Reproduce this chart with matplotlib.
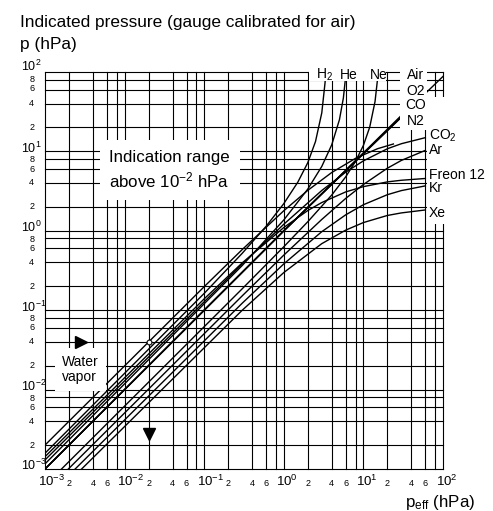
import matplotlib
matplotlib.use("Agg")
import matplotlib.pyplot as plt
import matplotlib.transforms as mtransforms
from matplotlib.patches import Rectangle

plt.rcParams['font.family'] = 'Liberation Sans'
plt.rcParams['mathtext.fontset'] = 'custom'
plt.rcParams['mathtext.rm'] = 'Liberation Sans'
plt.rcParams['mathtext.it'] = 'Liberation Sans:italic'
plt.rcParams['mathtext.bf'] = 'Liberation Sans:bold'

# grid / tick values
grid_mult = [1, 2, 4, 6, 8]
decades = [-3, -2, -1, 0, 1]
x_small_labels = [2, 4, 6]
y_small_labels = [2, 4, 6, 8]

# curves: p_eff (x) vs indicated p (y), hPa
water_x = [1e-3, 0.1, 0.3, 1, 2, 4, 8, 15, 23.8]
water_y = [2e-3, 0.198, 0.58, 1.79, 3.23, 5.42, 8.2, 10.8, 12.4]
h2_x = [1e-3, 0.1, 0.3, 0.6, 1, 1.5, 2, 2.5, 3, 3.3, 3.38]
h2_y = [1.58e-3, 0.163, 0.52, 1.14, 2.2, 4.1, 7.2, 13.3, 30.6, 74, 111]
he_x = [1e-3, 0.3, 1, 2, 3, 4, 5, 5.6, 6.0, 6.1]
he_y = [1.16e-3, 0.365, 1.37, 3.35, 6.47, 12.1, 25.1, 47, 90, 110]
ne_x = [1e-3, 0.3, 1, 2, 4, 6, 8, 10, 12, 14, 15, 15.4]
ne_y = [0.62e-3, 0.186, 0.63, 1.30, 2.82, 4.79, 7.56, 11.9, 20.2, 42.5, 79, 117]
air_x = [1e-3, 1, 10, 100]
air_y = [1e-3, 1, 9.5, 88]
o2_x = [1e-3, 1, 10, 29]
o2_y = [1e-3, 1, 9.3, 26.0]
co_x = [1e-3, 1, 10, 29]
co_y = [1e-3, 1, 9.6, 27.5]
n2_x = [1e-3, 1, 10, 28.8]
n2_y = [1e-3, 1, 9.4, 26.3]
co2_x = [1e-3, 0.3, 1, 3, 6, 10, 20, 30, 60]
co2_y = [1.30e-3, 0.382, 1.21, 3.22, 5.48, 7.6, 10.8, 12.5, 14.9]
freon_x = [1e-3, 0.1, 0.3, 1, 2, 3, 6, 10, 20, 30, 60]
freon_y = [1.43e-3, 0.139, 0.394, 1.10, 1.80, 2.27, 3.09, 3.60, 4.13, 4.33, 4.56]
ar_x = [1e-3, 0.3, 1, 3, 6, 10, 20, 30, 60]
ar_y = [0.51e-3, 0.1515, 0.494, 1.39, 2.56, 3.83, 6.14, 7.7, 10.3]
kr_x = [1e-3, 0.3, 1, 3, 6, 10, 20, 30, 60]
kr_y = [0.42e-3, 0.1224, 0.383, 0.975, 1.59, 2.13, 2.85, 3.21, 3.68]
xe_x = [1e-3, 0.3, 1, 3, 6, 10, 20, 30, 60]
xe_y = [0.35e-3, 0.0998, 0.298, 0.689, 1.02, 1.27, 1.56, 1.68, 1.83]

curves = [(water_x, water_y), (h2_x, h2_y), (he_x, he_y), (ne_x, ne_y),
          (air_x, air_y), (o2_x, o2_y), (co_x, co_y), (n2_x, n2_y),
          (co2_x, co2_y), (freon_x, freon_y), (ar_x, ar_y),
          (kr_x, kr_y), (xe_x, xe_y)]

top_labels = [('H$_2$', 3.2), ('He', 6.5), ('Ne', 15.7), ('Air', 45)]
mid_labels = [('O2', 57.7), ('CO', 38.4), ('N2', 24.2)]
right_labels = [('CO$_2$', 15.6), ('Ar', 10.4), ('Freon 12', 5.0),
                ('Kr', 3.46), ('Xe', 1.67)]

fig = plt.figure(figsize=(4.93, 5.11), dpi=100)
ax = fig.add_axes([0.0913, 0.0822, 0.8073, 0.7769])
ax.set_xscale('log')
ax.set_yscale('log')
ax.set_xlim(1e-3, 1e2)
ax.set_ylim(1e-3, 1e2)
for s in ax.spines.values():
    s.set_visible(False)
ax.tick_params(which='both', bottom=False, left=False,
               labelbottom=False, labelleft=False)

gvals = [m * 10.0 ** d for d in decades for m in grid_mult] + [1e2]
for v in gvals:
    ax.axvline(v, color='black', lw=0.8, zorder=1, clip_on=False)
    ax.axhline(v, color='black', lw=0.8, zorder=1, clip_on=False)

for cx, cy in curves:
    ax.plot(cx, cy, color='black', lw=1.0, zorder=2)

# white areas behind the curve labels
for (x0, x1, y0, y1) in [(2.05, 19.5, 76, 150), (29, 63, 18.6, 150),
                         (63, 300, 1.22, 48)]:
    ax.add_patch(Rectangle((x0, y0), x1 - x0, y1 - y0, fc='white',
                           ec='none', zorder=3, clip_on=False))

for t, xv in top_labels:
    ax.text(xv, 91.6, t, fontsize=10, ha='center', va='center', zorder=4)
for t, yv in mid_labels:
    ax.text(45, yv, t, fontsize=10, ha='center', va='center', zorder=4)
for t, yv in right_labels:
    ax.text(66.7, yv, t, fontsize=10, ha='left', va='center', zorder=4,
            clip_on=False)

ax.text(0.037, 5.8, 'Indication range\nabove 10$^{-2}$ hPa', fontsize=12.2,
        ha='center', va='center', multialignment='left', linespacing=1.3,
        bbox=dict(boxstyle='square,pad=0.58', fc='white', ec='none'), zorder=4)
ax.text(2.79e-3, 0.0179, 'Water\nvapor', fontsize=10, ha='center',
        va='center', multialignment='left', linespacing=1.05,
        bbox=dict(boxstyle='square,pad=0.5', fc='white', ec='none'), zorder=4)

# reading example: arrows and point
ax.plot([2.83e-3], [4e-2], marker='>', ms=8.5, color='black', zorder=5)
ax.plot([2e-2], [2.76e-3], marker='v', ms=8.5, color='black', zorder=5)
ax.plot([2e-2], [4e-2], marker='o', ms=3.5, mfc='white', mec='black',
        mew=0.8, zorder=5)

# tick labels
tx = mtransforms.blended_transform_factory(ax.transData, ax.transAxes)
ty = mtransforms.blended_transform_factory(ax.transAxes, ax.transData)
for d in decades + [2]:
    ax.text(10.0 ** d, -0.042, '$10^{%d}$' % d, fontsize=9.5, ha='left',
            va='baseline',
            transform=mtransforms.offset_copy(tx, fig, x=-5.4, units='points'))
    yoff = 1.0 if d == 2 else -1.0
    ax.text(-0.061, 10.0 ** d, '$10^{%d}$' % d, fontsize=9, ha='left',
            va='baseline',
            transform=mtransforms.offset_copy(ty, fig, y=yoff, units='points'))
for d in decades:
    for m in x_small_labels:
        ax.text(m * 10.0 ** d, -0.042, str(m), fontsize=6.5, ha='center',
                va='baseline', transform=tx)
    for m in y_small_labels:
        if d == 1 and m == 8:
            dy = 0.3
        elif d == 1 and m == 6:
            dy = 1.0
        elif m == 8:
            dy = -0.6
        else:
            dy = 0
        ax.text(-0.0332, m * 10.0 ** d, str(m), fontsize=6.5, ha='center',
                va='center',
                transform=mtransforms.offset_copy(ty, fig, y=dy, units='points'))

fig.text(20 / 493, 1 - 26.7 / 511, 'Indicated pressure (gauge calibrated for air)',
         fontsize=12.4, ha='left', va='baseline')
fig.text(20 / 493, 1 - 49.3 / 511, 'p (hPa)', fontsize=12.4, ha='left',
         va='baseline')
fig.text(475 / 493, 1 - 506.7 / 511, r'p$_{\rm eff}$ (hPa)', fontsize=12.2,
         ha='right', va='baseline')

fig.savefig('out.png', dpi=100)
